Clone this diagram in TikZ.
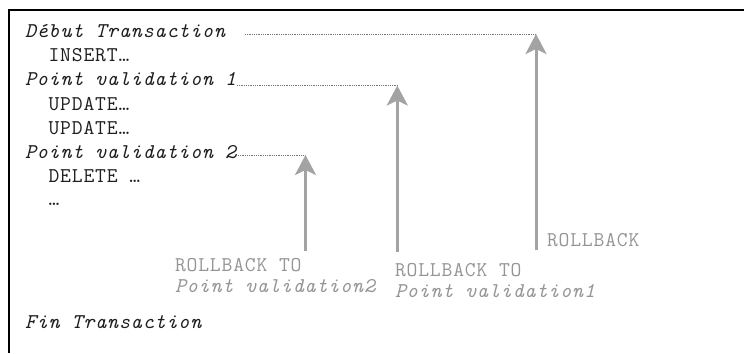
\documentclass[tikz,border=0pt]{standalone}
\usepackage{fontspec}
\newfontfamily\cour[LetterSpace=4.0]{Latin Modern Mono}
\usetikzlibrary{arrows.meta}
\definecolor{txt}{HTML}{1E1E1E}
\definecolor{lbl}{HTML}{959595}
\definecolor{arr}{HTML}{A3A3A3}
\begin{document}
\begin{tikzpicture}[x=1bp,y=-1bp,
  code/.style={anchor=base west,inner sep=0pt,outer sep=0pt,text=txt,
    font=\cour\fontsize{21bp}{24bp}\selectfont},
  codeit/.style={code,font=\cour\itshape\fontsize{21bp}{24bp}\selectfont},
  lab/.style={code,text=lbl},
  labit/.style={codeit,text=lbl},
  leader/.style={draw=black!55,line width=0.7bp,dash pattern=on 0.9bp off 0.9bp},
  rbarrow/.style={draw=arr,line width=3bp,-{Stealth[length=20bp,width=21bp,inset=5bp]}},
  frame/.style={draw=black,line width=2bp}]
\useasboundingbox (0,0) rectangle (744,353);
% frame (top and left edges only)
\draw[frame] (9,353) -- (9,10) -- (744,10);

% code listing
\node[codeit] (t1) at (25,37.5) {Début Transaction};
\node[code]   (t2) at (48.6,61) {INSERT…};
\node[codeit] (t3) at (25,85) {Point validation 1};
\node[code]   (t4) at (48.6,110) {UPDATE…};
\node[code]   (t5) at (48.6,134) {UPDATE…};
\node[codeit] (t6) at (25,158) {Point validation 2};
\node[code]   (t7) at (48.6,182) {DELETE …};
\node[code]   (t8) at (48.6,205) {…};
\node[codeit] (t9) at (25,328) {Fin Transaction};

% arrow tips and bases
\coordinate (tipA) at (536,34);
\coordinate (tipB) at (397.3,85.5);
\coordinate (tipC) at (305.5,155);
\coordinate (botA) at (536,250);
\coordinate (botB) at (397.3,251.5);
\coordinate (botC) at (305.5,251);

% leaders
\coordinate (lA) at (245,0);
\coordinate (lB) at (237,0);
\coordinate (lC) at (238,0);
\draw[leader] (lA |- tipA) -- (tipA);
\draw[leader] (lB |- tipB) -- (tipB);
\draw[leader] (lC |- tipC) -- (tipC);

% arrows
\draw[rbarrow] (botA) -- (tipA);
\draw[rbarrow] (botB) -- (tipB);
\draw[rbarrow] (botC) -- (tipC);

% labels
\node[lab]   (r1) at (547,246.5) {ROLLBACK};
\node[lab]   (r2a) at (395,276) {ROLLBACK TO};
\node[labit] (r2b) at (395,297) {Point validation1};
\node[lab]   (r3a) at (175,271) {ROLLBACK TO};
\node[labit] (r3b) at (175,292) {Point validation2};
\end{tikzpicture}
\end{document}
